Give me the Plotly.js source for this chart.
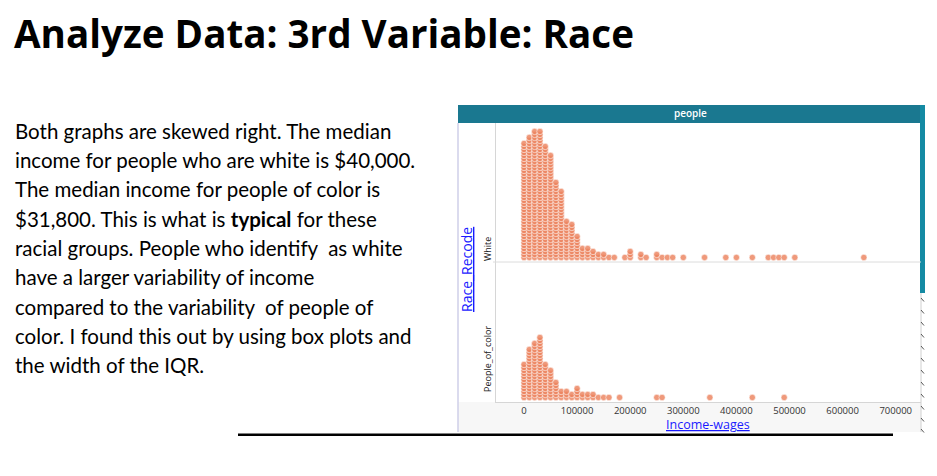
<!DOCTYPE html>
<html>
<head>
<meta charset="utf-8">
<script src="https://cdn.plot.ly/plotly-3.0.1.min.js"></script>
<style>
html,body{margin:0;padding:0;background:#fff;}
#chart{width:937px;height:476px;}
</style>
</head>
<body>
<div id="chart"></div>
<script>
// ---- data ----
// income bins (lower edge, width 10000) and number of stacked dots per bin
const whiteBins   = [0,10000,20000,30000,40000,50000,60000,70000,80000,90000,100000,110000,120000,130000,140000,150000,160000,170000,190000,200000,220000,230000,250000,260000,270000,280000,300000,340000,380000,400000,430000,460000,470000,480000,490000,510000,640000];
const whiteCounts = [39,41,43,43,38,35,26,23,13,12,8,4,4,3,2,2,1,1,1,3,2,1,2,1,1,1,1,1,1,1,1,1,1,1,1,1,1];
const pocBins     = [0,10000,20000,30000,40000,50000,60000,70000,80000,90000,100000,110000,120000,130000,140000,150000,160000,180000,250000,260000,350000,430000,490000];
const pocCounts   = [12,17,19,21,12,10,6,3,3,2,4,2,2,2,1,1,1,1,1,1,1,1,1];
const categories  = ["White","People_of_color"];
const tickVals    = [0,100000,200000,300000,400000,500000,600000,700000];
const tickText    = ["0","100000","200000","300000","400000","500000","600000","700000"];
const titleText   = "Analyze Data: 3rd Variable: Race";
const bodyLines   = [
  "Both graphs are skewed right. The median",
  "income for people who are white is $40,000.",
  "The median income for people of color is",
  "$31,800. This is what is <b>typical</b> for these",
  "racial groups. People who identify  as white",
  "have a larger variability of income",
  "compared to the variability  of people of",
  "color. I found this out by using box plots and",
  "the width of the IQR."
];

// ---- helpers ----
const W = 937, H = 476;
const px = x => x / W;
const py = y => 1 - y / H;

function stack(bins, counts) {
  const xs = [], ys = [];
  bins.forEach((b, i) => { for (let k = 0; k < counts[i]; k++) { xs.push(b); ys.push(k); } });
  return {xs, ys};
}
const w = stack(whiteBins, whiteCounts);
const p = stack(pocBins, pocCounts);

const marker = {size: 6.3, color: 'rgba(236,130,94,0.82)', line: {color: 'rgba(255,255,255,0.7)', width: 0.8}};

const traces = [
  {type: 'scatter', mode: 'markers', name: categories[0], x: w.xs, y: w.ys, xaxis: 'x', yaxis: 'y2', marker, hoverinfo: 'x'},
  {type: 'scatter', mode: 'markers', name: categories[1], x: p.xs, y: p.ys, xaxis: 'x', yaxis: 'y', marker, hoverinfo: 'x'}
];

const annotations = [];
annotations.push({xref: 'paper', yref: 'paper', x: px(12), y: py(33), xanchor: 'left', yanchor: 'middle', showarrow: false,
  text: '<b>' + titleText + '</b>', font: {family: 'Open Sans', size: 38.6, color: '#000'}});
bodyLines.forEach((t, i) => {
  annotations.push({xref: 'paper', yref: 'paper', x: px(13), y: py(131 + i * 29.25), xanchor: 'left', yanchor: 'middle', showarrow: false,
    text: t, font: {family: 'Lato', size: 20.5, color: '#000'}});
});
// CODAP header text
annotations.push({xref: 'paper', yref: 'paper', x: px(690), y: py(113), xanchor: 'center', yanchor: 'middle', showarrow: false,
  text: 'people', font: {family: 'Open Sans', size: 10, color: '#fff', weight: 600}});
// axis titles
annotations.push({xref: 'paper', yref: 'paper', x: px(708), y: py(424.5), xanchor: 'center', yanchor: 'middle', showarrow: false, borderpad: 0,
  text: 'Income-wages', font: {family: 'Open Sans', size: 12.5, color: '#1a1aff', lineposition: 'under'}});
annotations.push({xref: 'paper', yref: 'paper', x: px(466), y: py(270), xanchor: 'center', yanchor: 'middle', showarrow: false, textangle: -90, borderpad: 0,
  text: 'Race_Recode', font: {family: 'Open Sans', size: 14, color: '#1a1aff', lineposition: 'under'}});
// category labels
annotations.push({xref: 'paper', yref: 'paper', x: px(487), y: py(249), xanchor: 'center', yanchor: 'middle', showarrow: false, textangle: -90,
  text: categories[0], font: {family: 'Open Sans', size: 9, color: '#222'}});
annotations.push({xref: 'paper', yref: 'paper', x: px(487), y: py(359), xanchor: 'center', yanchor: 'middle', showarrow: false, textangle: -90,
  text: categories[1], font: {family: 'Open Sans', size: 9, color: '#222'}});

const shapes = [
  // panel bottom band
  {type: 'rect', xref: 'paper', yref: 'paper', x0: px(458), x1: px(921), y0: py(432), y1: py(402), fillcolor: '#f7f7f7', line: {width: 0}, layer: 'below'},
  // left panel border
  {type: 'line', xref: 'paper', yref: 'paper', x0: px(458), x1: px(458), y0: py(123), y1: py(432), line: {color: '#cfcfe8', width: 1.5}},
  // header
  {type: 'rect', xref: 'paper', yref: 'paper', x0: px(458), x1: px(921), y0: py(123), y1: py(105), fillcolor: '#1a7890', line: {width: 0}},
  // right teal bar
  {type: 'rect', xref: 'paper', yref: 'paper', x0: px(920), x1: px(925), y0: py(293), y1: py(105), fillcolor: '#148aa3', line: {width: 0}},
  {type: 'line', xref: 'paper', yref: 'paper', x0: px(921), x1: px(921), y0: py(432), y1: py(293), line: {color: '#d0d0d0', width: 1}},
  // separator between panels
  {type: 'line', xref: 'paper', yref: 'paper', x0: px(493), x1: px(921), y0: py(262), y1: py(262), line: {color: '#dcdcdc', width: 1}},
  // slide rule
  {type: 'line', xref: 'paper', yref: 'paper', x0: px(238), x1: px(893), y0: py(434.8), y1: py(434.8), line: {color: '#000', width: 2.5}}
];
// small resize grips on the right edge
[300, 312, 324, 336, 348, 360, 372, 384, 396, 408, 420, 431].forEach(y => {
  shapes.push({type: 'line', xref: 'paper', yref: 'paper', x0: px(921), x1: px(924), y0: py(y - 2), y1: py(y + 1.5), line: {color: '#555', width: 1}});
});

const layout = {
  width: W, height: H,
  margin: {l: 0, r: 0, t: 0, b: 0},
  paper_bgcolor: '#fff', plot_bgcolor: 'rgba(0,0,0,0)',
  showlegend: false,
  xaxis: {domain: [px(496), px(921)], range: [-52730, 747650], anchor: 'y',
    tickvals: tickVals, ticktext: tickText, ticks: '', showgrid: false, zeroline: false,
    showline: true, linecolor: '#d6d6d6', linewidth: 1,
    tickfont: {family: 'Open Sans', size: 9.5, color: '#333'}},
  yaxis: {domain: [py(402), py(262)], range: [-1.5, 45.17], showticklabels: false, showgrid: false, zeroline: false,
    showline: true, linecolor: '#d6d6d6', linewidth: 1, anchor: 'x'},
  yaxis2: {domain: [py(262), py(123)], range: [-1.5, 44.83], showticklabels: false, showgrid: false, zeroline: false,
    showline: true, linecolor: '#d6d6d6', linewidth: 1, anchor: 'x'},
  annotations, shapes
};

Plotly.newPlot('chart', traces, layout, {displayModeBar: false, staticPlot: true});
</script>
</body>
</html>
